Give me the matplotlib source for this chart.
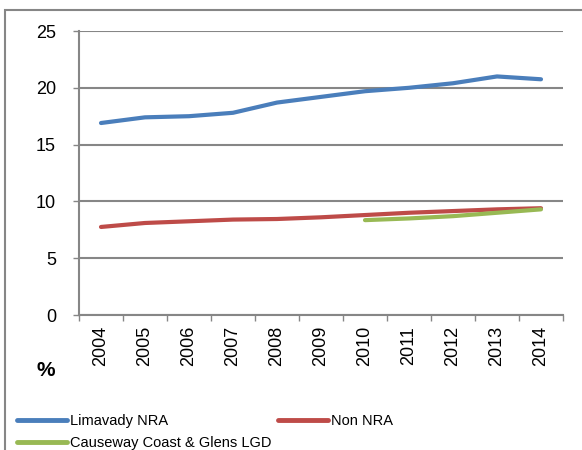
import numpy as np
import matplotlib
matplotlib.use("Agg")
import matplotlib.pyplot as plt
from matplotlib.patches import Rectangle

plt.rcParams['font.family'] = ['Liberation Sans', 'DejaVu Sans']

years = ['2004', '2005', '2006', '2007', '2008', '2009', '2010', '2011', '2012', '2013', '2014']
limavady = [16.9, 17.4, 17.5, 17.8, 18.7, 19.2, 19.7, 20.0, 20.4, 21.0, 20.75]
non_nra = [7.75, 8.1, 8.25, 8.4, 8.45, 8.6, 8.8, 9.0, 9.15, 9.3, 9.4]
ccg_years = ['2010', '2011', '2012', '2013', '2014']
ccg = [8.35, 8.5, 8.7, 9.0, 9.3]

grey = '#868686'

fig = plt.figure(figsize=(5.82, 4.5), dpi=100)
ax = fig.add_axes([79/582, 135/450, 484/582, 284/450])

x = np.arange(len(years))
x_ccg = [years.index(y) for y in ccg_years]

l1, = ax.plot(x, limavady, color='#4A7EBB', lw=3, solid_capstyle='round', label='Limavady NRA')
l2, = ax.plot(x, non_nra, color='#BE4B48', lw=3, solid_capstyle='round', label='Non NRA')
l3, = ax.plot(x_ccg, ccg, color='#98B954', lw=3, solid_capstyle='round', label='Causeway Coast & Glens LGD')

ax.set_xlim(-0.5, len(years) - 0.5)
ax.set_ylim(0, 25)
ax.set_yticks(range(0, 26, 5))
ax.set_xticks(x)
ax.set_xticklabels(years, rotation=90, fontsize=13)
ax.set_xticks(np.arange(-0.5, len(years), 1), minor=True)
ax.tick_params(axis='x', which='major', length=0, pad=8)
ax.tick_params(axis='x', which='minor', length=4.5, color=grey, width=1)
ax.tick_params(axis='y', length=4.5, color=grey, width=1, labelsize=13, pad=12)

ax.yaxis.grid(True, color=grey, lw=1.5)
ax.set_axisbelow(True)
for s in ['top', 'right']:
    ax.spines[s].set_visible(False)
for s in ['left', 'bottom']:
    ax.spines[s].set_color(grey)
    ax.spines[s].set_linewidth(1.5)

fig.text(46/582, 1 - 371/450, '%', fontsize=15, fontweight='bold', ha='center', va='center')

leg = fig.legend(handles=[l1, l3, l2], ncol=2, loc='upper left',
                 bbox_to_anchor=(17/582, 1 - 414/450), frameon=False, fontsize=10.5,
                 handlelength=3.4, handletextpad=0.2, columnspacing=0.5,
                 labelspacing=0.55, borderpad=0, borderaxespad=0)
for h in leg.legend_handles:
    h.set_linewidth(3.5)

fig.patches.append(Rectangle((5/582, -0.1), 1.2, 1 - 10/450 + 0.1, transform=fig.transFigure,
                             fill=False, edgecolor=grey, lw=1.5))

fig.savefig('out.png', dpi=100)
